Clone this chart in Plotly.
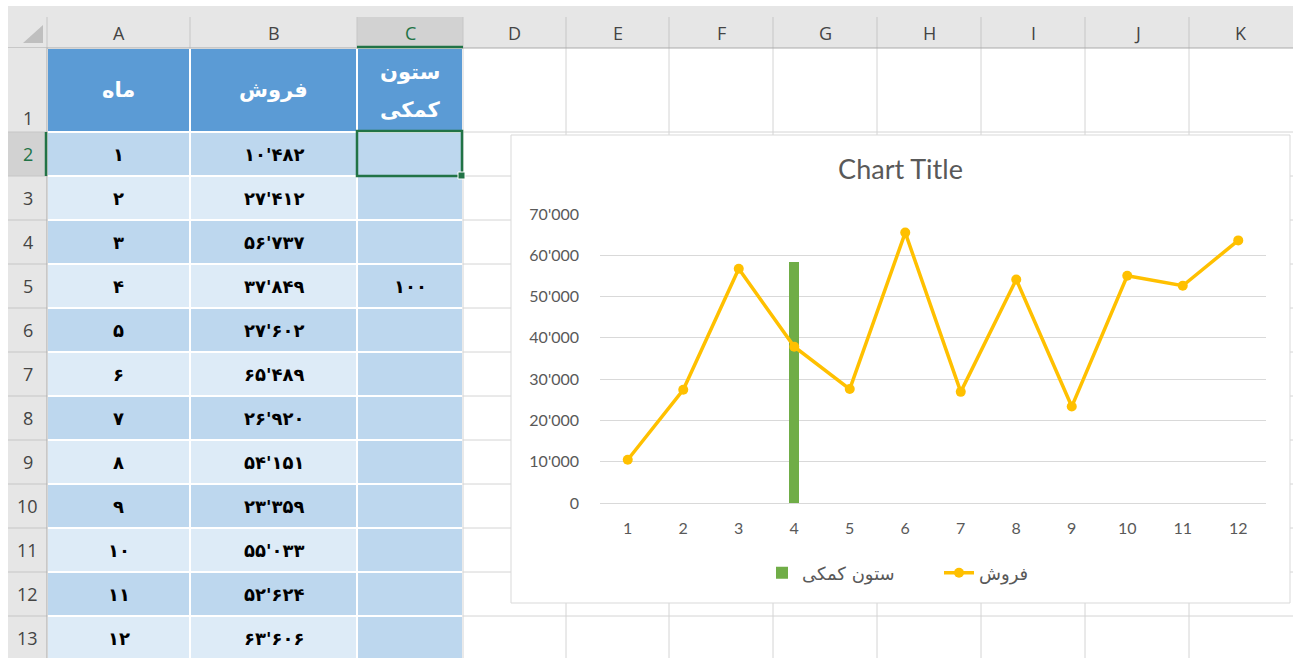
import plotly.graph_objects as go

# ---------------- data ----------------
months = [1, 2, 3, 4, 5, 6, 7, 8, 9, 10, 11, 12]
sales = [10482, 27412, 56737, 37849, 27602, 65489, 26920, 54151, 23359, 55033, 52624, 63606]
helper = [None, None, None, 100, None, None, None, None, None, None, None, None]
headers = ["ماه", "فروش", "ستون کمکی"]
col_letters = ["A", "B", "C", "D", "E", "F", "G", "H", "I", "J", "K"]
row_numbers = list(range(1, 14))
y_ticks = [0, 10000, 20000, 30000, 40000, 50000, 60000, 70000]
chart_title = "Chart Title"

FA = str.maketrans("0123456789", "۰۱۲۳۴۵۶۷۸۹")


def fa_num(v, sep=True):
    s = f"{v:,}".replace(",", "'") if sep else str(v)
    return s.translate(FA)


# ---------------- geometry (pixels of the sheet) ----------------
W, H = 1293, 658
RH_X0, RH_X1 = 8, 47                       # row-header column
COL_EDGES = [47, 190, 357, 463, 566, 669, 773, 877, 981, 1085, 1189, 1293]
ROW_EDGES = [48, 132] + [132 + 44 * k for k in range(1, 13)]
HDR_TOP, HDR_SEP_TOP, HDR_BOT = 6, 17, 48
CHART_BOX = (511, 135, 1290, 603)
PLOT_X = (600, 1266)
PLOT_Y = (214, 503)   # top, bottom

GRID = "#D4D4D4"
HDR_BG = "#E6E6E6"
HDR_SEL = "#D2D2D2"
XL_GREEN = "#217346"
TXT_GRAY = "#444444"
CHART_TXT = "#595959"

fig = go.Figure()

# ---------------- table cells (heatmap on sheet axes) ----------------
n_rows = 1 + len(months)
z = []
for r in range(n_rows):
    if r == 0:
        z.append([0, 0, 0])
    else:
        band = 1 if (r - 1) % 2 == 0 else 2
        z.append([band, band, 1])

fig.add_trace(go.Heatmap(
    x=COL_EDGES[:4], y=ROW_EDGES, z=z,
    zmin=0, zmax=2,
    colorscale=[[0, "#5B9BD5"], [0.25, "#5B9BD5"], [0.25, "#BDD7EE"], [0.75, "#BDD7EE"],
                [0.75, "#DDEBF7"], [1, "#DDEBF7"]],
    showscale=False, xgap=2, ygap=2, hoverinfo="skip",
    xaxis="x", yaxis="y",
))

# ---------------- chart traces ----------------
fig.add_trace(go.Bar(
    x=months, y=helper, name=headers[2], xaxis="x2", yaxis="y2",
    marker=dict(color="#70AD47", line=dict(width=0)), width=0.18,
    hoverinfo="skip",
))
fig.add_trace(go.Scatter(
    x=months, y=sales, name=headers[1], xaxis="x2", yaxis="y3",
    mode="lines+markers",
    line=dict(color="#FFC000", width=3.5),
    marker=dict(color="#FFC000", size=10),
))

# ---------------- shapes (sheet chrome) ----------------
shapes = []


def rect(x0, y0, x1, y1, fill, line_color=None, lw=0, layer="below"):
    shapes.append(dict(type="rect", xref="x", yref="y", x0=x0, y0=y0, x1=x1, y1=y1,
                       fillcolor=fill, line=dict(color=line_color or fill, width=lw), layer=layer))


def line(x0, y0, x1, y1, color, lw=1, layer="below"):
    shapes.append(dict(type="line", xref="x", yref="y", x0=x0, y0=y0, x1=x1, y1=y1,
                       line=dict(color=color, width=lw), layer=layer))


# sheet gridlines in empty region
for xe in COL_EDGES[3:-1]:
    line(xe, HDR_BOT, xe, H, GRID)
for ye in ROW_EDGES[1:]:
    line(COL_EDGES[3], ye, W, ye, GRID)

# column header band
rect(RH_X0, HDR_TOP, W, HDR_BOT, HDR_BG)
rect(COL_EDGES[2], HDR_SEP_TOP, COL_EDGES[3], HDR_BOT, HDR_SEL)
for xe in COL_EDGES[:-1]:
    line(xe, HDR_SEP_TOP, xe, HDR_BOT, "#C6C6C6")
line(RH_X0, HDR_BOT, W, HDR_BOT, "#ABABAB")
line(COL_EDGES[2], HDR_BOT - 1, COL_EDGES[3], HDR_BOT - 1, XL_GREEN, 2.5)
# corner triangle
shapes.append(dict(type="path", xref="x", yref="y", path="M 23 43 L 43 43 L 43 25 Z",
                   fillcolor="#BFBFBF", line=dict(width=0), layer="below"))

# row header band
rect(RH_X0, HDR_BOT, RH_X1, H, HDR_BG)
rect(RH_X0, ROW_EDGES[1], RH_X1, ROW_EDGES[2], HDR_SEL)
for ye in ROW_EDGES[1:]:
    line(RH_X0, ye, RH_X1, ye, "#C6C6C6")
line(RH_X1, HDR_BOT, RH_X1, H, "#ABABAB")
line(RH_X1 - 1, ROW_EDGES[1], RH_X1 - 1, ROW_EDGES[2], XL_GREEN, 2.5)

# chart area
cx0, cy0, cx1, cy1 = CHART_BOX
rect(cx0, cy0, cx1, cy1, "white", "#D9D9D9", 1)

# selected cell C2
shapes.append(dict(type="rect", xref="x", yref="y", x0=COL_EDGES[2], y0=ROW_EDGES[1] - 1,
                   x1=COL_EDGES[3] - 1, y1=ROW_EDGES[2], line=dict(color=XL_GREEN, width=2.5),
                   fillcolor="rgba(0,0,0,0)", layer="above"))
rect(COL_EDGES[3] - 5, ROW_EDGES[2] - 4, COL_EDGES[3] + 2, ROW_EDGES[2] + 3, XL_GREEN, "white", 1,
     layer="above")

# ---------------- annotations (cell text) ----------------
ann = []


def txt(x, y, s, size=17, color="black", family="DejaVu Sans", bold=False):
    ann.append(dict(xref="x", yref="y", x=x, y=y, text=f"<b>{s}</b>" if bold else s,
                    showarrow=False, xanchor="center", yanchor="middle",
                    font=dict(size=size, color=color, family=family)))


for i, letter in enumerate(col_letters):
    cxm = (COL_EDGES[i] + COL_EDGES[i + 1]) / 2
    txt(cxm, 33, letter, 18, XL_GREEN if letter == "C" else TXT_GRAY, "Open Sans")

for r in row_numbers:
    ymid = (ROW_EDGES[r - 1] + ROW_EDGES[r]) / 2
    if r == 1:
        ymid = ROW_EDGES[1] - 14
    txt((RH_X0 + RH_X1) / 2, ymid, str(r), 18, XL_GREEN if r == 2 else TXT_GRAY, "Open Sans")

hdr_mid = (ROW_EDGES[0] + ROW_EDGES[1]) / 2
for j, h in enumerate(headers):
    cxm = (COL_EDGES[j] + COL_EDGES[j + 1]) / 2
    words = h.split(" ")
    if len(words) == 1:
        txt(cxm, hdr_mid, h, 21, "white", bold=True)
    else:
        for k, wd in enumerate(words):
            txt(cxm, hdr_mid - 18 + 38 * k, wd, 21, "white", bold=True)

for i, m in enumerate(months):
    ymid = (ROW_EDGES[i + 1] + ROW_EDGES[i + 2]) / 2
    txt((COL_EDGES[0] + COL_EDGES[1]) / 2, ymid, fa_num(m, False), 18, bold=True)
    txt((COL_EDGES[1] + COL_EDGES[2]) / 2, ymid, fa_num(sales[i]), 18, bold=True)
    if helper[i] is not None:
        txt((COL_EDGES[2] + COL_EDGES[3]) / 2, ymid, fa_num(helper[i], False), 18, bold=True)

# ---------------- layout ----------------
fig.update_layout(
    template="none",
    width=W, height=H, margin=dict(l=0, r=0, t=0, b=0, pad=0, autoexpand=False),
    paper_bgcolor="white", plot_bgcolor="rgba(0,0,0,0)",
    separators=".'",
    showlegend=True,
    shapes=shapes, annotations=ann,
    title=dict(text=chart_title, x=((cx0 + cx1) / 2) / W, y=1 - 170 / H,
               xanchor="center", yanchor="middle", xref="paper", yref="paper",
               automargin=False,
               font=dict(family="Lato", size=27, color=CHART_TXT)),
    legend=dict(orientation="h", x=762 / W, y=1 - 573 / H, xanchor="left", yanchor="middle",
                entrywidth=132, entrywidthmode="pixels", itemwidth=30,
                font=dict(family="DejaVu Sans", size=18, color=CHART_TXT),
                bgcolor="rgba(0,0,0,0)", traceorder="normal"),
    xaxis=dict(domain=[0, 1], range=[0, W], visible=False, fixedrange=True, automargin=False),
    yaxis=dict(domain=[0, 1], range=[H, 0], visible=False, fixedrange=True, automargin=False),
    xaxis2=dict(domain=[PLOT_X[0] / W, PLOT_X[1] / W], anchor="y2", range=[0.5, 12.5],
                tickvals=months, ticktext=[str(m) for m in months], showgrid=False,
                zeroline=False, showline=False, ticks="", ticklabelstandoff=14,
                automargin=False,
                tickfont=dict(family="Lato", size=16, color=CHART_TXT), fixedrange=True),
    yaxis2=dict(domain=[1 - PLOT_Y[1] / H, 1 - PLOT_Y[0] / H], anchor="x2", range=[0, 120],
                visible=False, fixedrange=True, automargin=False),
    yaxis3=dict(overlaying="y2", anchor="x2", side="left", range=[0, 70000], tickvals=y_ticks,
                tickformat=",", showgrid=True, gridcolor="#D9D9D9", gridwidth=1,
                zeroline=True, zerolinecolor="#D9D9D9", zerolinewidth=1, showline=False,
                ticks="", ticklabelstandoff=20, automargin=False,
                tickfont=dict(family="Lato", size=16, color=CHART_TXT), fixedrange=True),
    bargap=0,
)

fig.write_html(
    "out.html",
    config={"displayModeBar": False},
    post_script="document.body.style.margin='0px';document.body.style.overflow='hidden';",
)
